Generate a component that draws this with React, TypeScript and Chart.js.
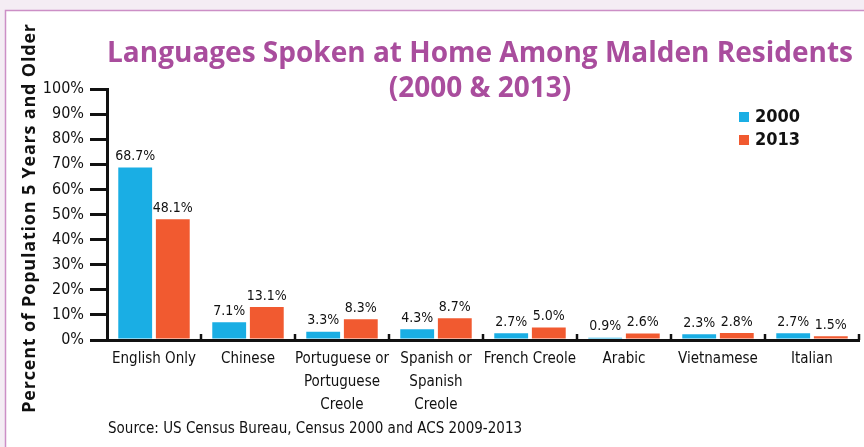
import React, { useEffect, useRef } from "react";
import { Chart, registerables } from "chart.js";

Chart.register(...registerables);

const categories: (string | string[])[] = [
  "English Only",
  "Chinese",
  ["Portuguese or", "Portuguese", "Creole"],
  ["Spanish or", "Spanish", "Creole"],
  "French Creole",
  "Arabic",
  "Vietnamese",
  "Italian",
];
const values2000 = [68.7, 7.1, 3.3, 4.3, 2.7, 0.9, 2.3, 2.7];
const values2013 = [48.1, 13.1, 8.3, 8.7, 5.0, 2.6, 2.8, 1.5];
const seriesLabels = ["2000", "2013"];
const titleLines = ["Languages Spoken at Home Among Malden Residents", "(2000 & 2013)"];
const yTitle = "Percent of Population 5 Years and Older";
const sourceText = "Source: US Census Bureau, Census 2000 and ACS 2009-2013";

const BLUE = "#1aaee4";
const ORANGE = "#f15a30";
const PURPLE = "#a94d9d";
const NARROW = "'DejaVu Sans Condensed', 'Liberation Sans Narrow', sans-serif";
const NARROW_BOLD = "bold 18px 'DejaVu Sans Condensed', 'Liberation Sans Narrow', sans-serif";

const decorPlugin = {
  id: "decor",
  beforeDraw(chart: any) {
    const ctx = chart.ctx;
    ctx.save();
    ctx.fillStyle = "#f4edf4";
    ctx.fillRect(0, 0, chart.width, chart.height);
    ctx.fillStyle = "#ffffff";
    ctx.fillRect(5.5, 10.5, chart.width + 20, chart.height + 20);
    ctx.strokeStyle = "#cc8fc6";
    ctx.lineWidth = 1.5;
    ctx.strokeRect(5.5, 10.5, chart.width + 20, chart.height + 20);
    ctx.restore();
  },
  afterDraw(chart: any) {
    const ctx = chart.ctx;
    ctx.save();
    // title
    ctx.fillStyle = PURPLE;
    ctx.font = "bold 28px 'Open Sans', sans-serif";
    ctx.textAlign = "center";
    ctx.textBaseline = "middle";
    ctx.fillText(titleLines[0], 480, 54);
    ctx.fillText(titleLines[1], 480, 89);
    // y title
    ctx.save();
    ctx.translate(30, 218);
    ctx.rotate(-Math.PI / 2);
    ctx.fillStyle = "#111";
    ctx.font = "bold 18px 'Open Sans', sans-serif";
    try { (ctx as any).letterSpacing = "0.8px"; } catch (e) {}
    ctx.fillText(yTitle, 0, 0);
    try { (ctx as any).letterSpacing = "0px"; } catch (e) {}
    ctx.restore();
    // legend
    const legendColors = [BLUE, ORANGE];
    ctx.textAlign = "left";
    ctx.font = NARROW_BOLD;
    seriesLabels.forEach((lab, i) => {
      const y = 117 + i * 23;
      ctx.fillStyle = legendColors[i];
      ctx.fillRect(739, y - 5, 10, 10);
      ctx.fillStyle = "#111";
      ctx.fillText(lab, 755, y);
    });
    // source
    ctx.font = "15px " + NARROW;
    ctx.fillStyle = "#111";
    ctx.fillText(sourceText, 108, 429);
    // x boundary ticks
    const xs = chart.scales.x;
    const area = chart.chartArea;
    const n = categories.length;
    const half = (xs.getPixelForValue(1) - xs.getPixelForValue(0)) / 2;
    ctx.strokeStyle = "#111";
    ctx.lineWidth = 2.5;
    for (let i = 0; i < n; i++) {
      const x = xs.getPixelForValue(i) + half;
      ctx.beginPath();
      ctx.moveTo(x, area.bottom);
      ctx.lineTo(x, area.bottom - 6);
      ctx.stroke();
    }
    // data labels
    ctx.font = "14px " + NARROW;
    ctx.textAlign = "center";
    ctx.textBaseline = "bottom";
    ctx.fillStyle = "#111";
    chart.data.datasets.forEach((ds: any, di: number) => {
      const meta = chart.getDatasetMeta(di);
      meta.data.forEach((el: any, i: number) => {
        ctx.fillText(ds.data[i].toFixed(1) + "%", el.x, el.y - 4);
      });
    });
    ctx.restore();
  },
};

export default function App() {
  const ref = useRef<HTMLCanvasElement | null>(null);
  useEffect(() => {
    if (!ref.current) return;
    const chart = new Chart(ref.current, {
      type: "bar",
      data: {
        labels: categories,
        datasets: [
          { label: seriesLabels[0], data: values2000, backgroundColor: BLUE },
          { label: seriesLabels[1], data: values2013, backgroundColor: ORANGE },
        ],
      },
      options: {
        animation: false,
        responsive: false,
        devicePixelRatio: 1,
        layout: { padding: { left: 0, top: 89, right: 5, bottom: 0 } },
        plugins: { legend: { display: false }, title: { display: false }, tooltip: { enabled: false } },
        datasets: { bar: { categoryPercentage: 0.8, barPercentage: 0.9 } },
        scales: {
          x: {
            grid: { display: false },
            border: { display: true, color: "#111", width: 3 },
            ticks: {
              color: "#111",
              padding: 0,
              maxRotation: 0,
              autoSkip: false,
              font: { family: NARROW, size: 15, lineHeight: 1.53 },
            },
            afterFit(scale: any) {
              scale.height = 107;
            },
          },
          y: {
            min: 0,
            max: 100,
            grid: { drawOnChartArea: false, drawTicks: true, tickLength: 17, lineWidth: 3, color: "#111" },
            border: { display: true, color: "#111", width: 3 },
            ticks: {
              stepSize: 10,
              color: "#111",
              padding: 6,
              font: { family: NARROW, size: 16 },
              callback: (v: any) => v + "%",
            },
            afterFit(scale: any) {
              scale.width = 107;
            },
          },
        },
      } as any,
      plugins: [decorPlugin],
    });
    return () => chart.destroy();
  }, []);
  return (
    <div style={{ position: "absolute", left: 0, top: 0, width: 864, height: 447 }}>
      <canvas ref={ref} width={864} height={447} style={{ width: 864, height: 447, display: "block" }} />
    </div>
  );
}
